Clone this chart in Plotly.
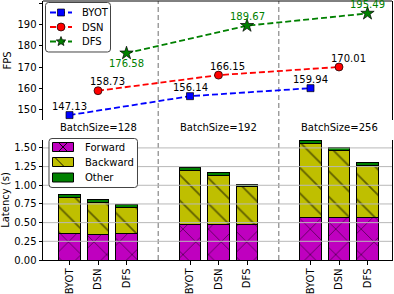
import math
import plotly.graph_objects as go

# ---------------- data ----------------
methods = ["BYOT", "DSN", "DFS"]
batch_sizes = [128, 192, 256]

fps_byot = [147.13, 156.14, 159.94]
fps_dsn = [158.73, 166.15, 170.01]
fps_dfs = [176.58, 189.67, 195.49]

# latency per batch size (rows) and method (cols: BYOT, DSN, DFS)
forward_latency = [[0.35, 0.345, 0.36], [0.47, 0.47, 0.47], [0.568, 0.568, 0.568]]
backward_latency = [[0.49, 0.428, 0.347], [0.73, 0.658, 0.51], [0.992, 0.902, 0.702]]
other_latency = [[0.035, 0.037, 0.03], [0.04, 0.04, 0.037], [0.04, 0.037, 0.04]]

fps_ticks = [150, 160, 170, 180, 190, 200]
lat_ticks = [0.0, 0.25, 0.5, 0.75, 1.0, 1.25, 1.5]

# ---------------- layout helpers ----------------
FONT = "DejaVu Sans"
OFF = 0.2365
BAR_W = 0.18
ML, MR, MT, MB = 43, 2, 1, 34
W, H = 394, 294
PW, PH = W - ML - MR, H - MT - MB


def xpos(g, k):
    return g + (k - 1) * OFF


def PX(xp):
    return (xp - ML) / PW


def PY(yp):
    return (H - MB - yp) / PH


xs = [xpos(g, k) for g in range(len(batch_sizes)) for k in range(len(methods))]
xlabels = [m for _ in batch_sizes for m in methods]


def flat(rows):
    return [v for r in rows for v in r]


fig = go.Figure()
shapes = []
annos = []

# ---- top panel: FPS lines ----
series = [
    ("BYOT", fps_byot, 0, "#0000ff", "square", 7),
    ("DSN", fps_dsn, 1, "#ff0000", "circle", 8),
    ("DFS", fps_dfs, 2, "#008000", "star", 10),
]
for name, vals, k, col, sym, sz in series:
    fig.add_trace(go.Scatter(
        x=[xpos(g, k) for g in range(len(batch_sizes))], y=vals,
        mode="lines+markers", name=name, showlegend=False,
        line=dict(color=col, width=1.8, dash="6px,3px"),
        marker=dict(symbol=sym, size=sz, color=col, line=dict(color="black", width=0.7)),
        xaxis="x", yaxis="y",
    ))

# data labels
label_cfg = {"BYOT": (0, 9, "black"), "DSN": (9, 9, "black"), "DFS": (0, 9, "#008000")}
for name, vals, k, col, sym, sz in series:
    dx, dy, tc = label_cfg[name]
    for g, v in enumerate(vals):
        yshift = dy
        if name == "DFS" and g == 0:
            yshift = -10
        annos.append(dict(
            x=xpos(g, k), y=v, xref="x", yref="y", text=f"{v:.2f}", showarrow=False,
            xshift=dx, yshift=yshift, font=dict(family=FONT, size=10, color=tc),
        ))

# ---- bottom panel: stacked latency bars ----
bar_series = [
    ("Forward", forward_latency, "#bf00bf", "x"),
    ("Backward", backward_latency, "#bfbf00", "\\"),
    ("Other", other_latency, "#008000", ""),
]
for name, rows, col, pat in bar_series:
    fig.add_trace(go.Bar(
        x=xs, y=flat(rows), name=name, width=BAR_W, showlegend=False,
        marker=dict(
            color=col, line=dict(color="black", width=1),
            pattern=dict(shape=pat, fgcolor="black", bgcolor=col, size=18, solidity=0.1,
                         fillmode="overlay"),
        ),
        xaxis="x2", yaxis="y2",
    ))

# gridlines drawn above the bars
for v in lat_ticks[1:]:
    shapes.append(dict(type="line", xref="x2 domain", yref="y2", x0=0, x1=1, y0=v, y1=v,
                       line=dict(color="#b8b8b8", width=1), layer="above"))

# group separators spanning both panels
for g in range(len(batch_sizes) - 1):
    shapes.append(dict(type="line", xref="x2", yref="paper", x0=g + 0.5, x1=g + 0.5, y0=0, y1=1,
                       line=dict(color="#999999", width=1.4, dash="5px,3px"), layer="below"))

# top spine of top panel
shapes.append(dict(type="line", xref="paper", yref="paper", x0=0, x1=1, y0=1, y1=1,
                   line=dict(color="black", width=1)))

# batch size titles
for g, bs in enumerate(batch_sizes):
    annos.append(dict(x=g, y=PY(127), xref="x2", yref="paper", text=f"BatchSize={bs}",
                      showarrow=False, font=dict(family=FONT, size=10, color="black")))


# ---------------- legends (drawn as layout shapes) ----------------
def rounded_box(x0, y0, x1, y1, r=3):
    def p(x, y):
        return f"{PX(x):.5f},{PY(y):.5f}"
    return ("M " + p(x0 + r, y0) + " L " + p(x1 - r, y0) + " Q " + p(x1, y0) + " " + p(x1, y0 + r)
            + " L " + p(x1, y1 - r) + " Q " + p(x1, y1) + " " + p(x1 - r, y1)
            + " L " + p(x0 + r, y1) + " Q " + p(x0, y1) + " " + p(x0, y1 - r)
            + " L " + p(x0, y0 + r) + " Q " + p(x0, y0) + " " + p(x0 + r, y0) + " Z")


def star_path(cx, cy, ro, ri):
    pts = []
    for i in range(10):
        a = -math.pi / 2 + i * math.pi / 5
        r = ro if i % 2 == 0 else ri
        pts.append(f"{PX(cx + r * math.cos(a)):.5f},{PY(cy + r * math.sin(a)):.5f}")
    return "M " + " L ".join(pts) + " Z"


LEG_EDGE = "#444444"
# top legend
shapes.append(dict(type="path", xref="paper", yref="paper", path=rounded_box(45.5, 2.5, 110.5, 52),
                   fillcolor="white", line=dict(color=LEG_EDGE, width=1), layer="above"))
leg_rows = [12.5, 27, 41.5]
for (name, vals, k, col, sym, sz), ly in zip(series, leg_rows):
    shapes.append(dict(type="line", xref="paper", yref="paper", x0=PX(50), x1=PX(72),
                       y0=PY(ly), y1=PY(ly), line=dict(color=col, width=1.8, dash="6px,3px"),
                       layer="above"))
    if sym == "square":
        shapes.append(dict(type="rect", xref="paper", yref="paper", x0=PX(57.5), x1=PX(64.5),
                           y0=PY(ly + 3.5), y1=PY(ly - 3.5), fillcolor=col,
                           line=dict(color="black", width=0.7), layer="above"))
    elif sym == "circle":
        shapes.append(dict(type="circle", xref="paper", yref="paper", x0=PX(57), x1=PX(65),
                           y0=PY(ly + 4), y1=PY(ly - 4), fillcolor=col,
                           line=dict(color="black", width=0.7), layer="above"))
    else:
        shapes.append(dict(type="path", xref="paper", yref="paper", path=star_path(61, ly, 5, 2.2),
                           fillcolor=col, line=dict(color="black", width=0.7), layer="above"))
    annos.append(dict(x=PX(80), y=PY(ly), xref="paper", yref="paper", text=name,
                      xanchor="left", yanchor="middle", showarrow=False,
                      font=dict(family=FONT, size=10, color="black")))

# bottom legend
shapes.append(dict(type="path", xref="paper", yref="paper", path=rounded_box(49, 138.5, 137.5, 187.5),
                   fillcolor="white", line=dict(color=LEG_EDGE, width=1), layer="above"))
bleg_rows = [147, 162, 177.5]
for (name, rows, col, pat), ly in zip(bar_series, bleg_rows):
    x0, x1, y0, y1 = 52.5, 73.5, ly - 4.5, ly + 4.5
    shapes.append(dict(type="rect", xref="paper", yref="paper", x0=PX(x0), x1=PX(x1),
                       y0=PY(y1), y1=PY(y0), fillcolor=col,
                       line=dict(color="black", width=1), layer="above"))
    hatch = []
    if pat == "x":
        hatch = [(58.5, y0, 67.5, y1), (58.5, y1, 67.5, y0)]
    elif pat == "\\":
        hatch = [(55, y0, 64, y1)]
    for hx0, hy0, hx1, hy1 in hatch:
        shapes.append(dict(type="line", xref="paper", yref="paper", x0=PX(hx0), x1=PX(hx1),
                           y0=PY(hy0), y1=PY(hy1), line=dict(color="black", width=0.9),
                           layer="above"))
    annos.append(dict(x=PX(82.5), y=PY(ly), xref="paper", yref="paper", text=name,
                      xanchor="left", yanchor="middle", showarrow=False,
                      font=dict(family=FONT, size=10, color="black")))

XR = [-0.4564, 2.4398]
TOP_DOM = [PY(120), 1.0]
BOT_DOM = [0.0, PY(140)]

fig.update_layout(
    width=W, height=H,
    margin=dict(l=ML, r=MR, t=MT, b=MB),
    paper_bgcolor="white", plot_bgcolor="white",
    font=dict(family=FONT, size=10, color="black"),
    barmode="stack", showlegend=False,
    shapes=shapes, annotations=annos,
    xaxis=dict(domain=[0, 1], range=XR, anchor="y", matches="x2", showticklabels=False,
               showline=False, showgrid=False, zeroline=False, ticks=""),
    yaxis=dict(domain=TOP_DOM, range=[144.8, 201.4], anchor="x", tickvals=fps_ticks,
               ticks="outside", ticklen=3.5, tickcolor="black", showline=True, mirror=True,
               linecolor="black", linewidth=1, showgrid=False, zeroline=False,
               title=dict(text="FPS", font=dict(size=10), standoff=3), automargin=False),
    xaxis2=dict(domain=[0, 1], range=XR, anchor="y2", tickvals=xs, ticktext=xlabels,
                tickangle=-90, ticks="outside", ticklen=3.5, tickcolor="black",
                showline=True, mirror=False, linecolor="black", linewidth=1,
                showgrid=False, zeroline=False, automargin=False),
    yaxis2=dict(domain=BOT_DOM, range=[0, 1.606], anchor="x2", tickvals=lat_ticks,
                ticktext=[f"{v:.2f}" for v in lat_ticks],
                ticks="outside", ticklen=3.5, tickcolor="black", showline=True, mirror=True,
                linecolor="black", linewidth=1, showgrid=False, zeroline=False,
                title=dict(text="Latency (s)", font=dict(size=10), standoff=2), automargin=False),
)

fig.write_html("out.html", config={"displayModeBar": False},
               post_script="document.body.style.margin='0px';")
